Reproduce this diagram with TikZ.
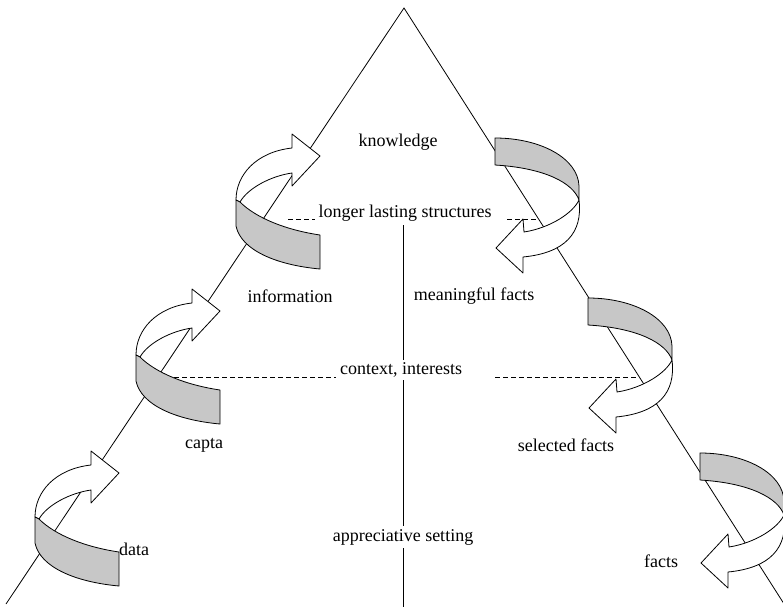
\documentclass[tikz,border=0pt]{standalone}
\usepackage{fontspec}
\setmainfont{Liberation Serif}
\begin{document}
\begin{tikzpicture}[x=1pt,y=-1pt,
  edge/.style={line width=0.8pt},
  guide/.style={line width=0.8pt, dash pattern=on 5pt off 3pt},
  ribbon/.style={draw, line width=0.8pt, fill=black!22, line join=round},
  shaft/.style={draw, line width=0.8pt, fill=white, line join=round},
  lbl/.style={font=\fontsize{18}{20}\selectfont, inner sep=1pt},
  cutlbl/.style={lbl, fill=white, inner sep=3pt},
  % curl rising to the upper right (left flank)
  curlup/.pic={
    \path[shaft] (0,0) .. controls (0,-25) and (20,-48) .. (56,-52)
      -- (56,-66) -- (84,-44) -- (56,-14) -- (56,-27)
      .. controls (35,-24) and (12,-12) .. (4,2) -- cycle;
    \path[ribbon] (0,0) -- (0,26) .. controls (5,50) and (40,65) .. (84,69)
      -- (84,35) .. controls (50,30) and (20,18) .. (4,2) -- cycle;
  },
  % curl falling to the lower left (right flank)
  curldown/.pic={
    \path[shaft] (84,62) .. controls (88,95) and (70,115) .. (28,119)
      -- (28,135) -- (1,110) -- (28,81) -- (29,94)
      .. controls (55,90) and (78,75) .. (84,62) -- cycle;
    \path[ribbon] (0,0) .. controls (45,0) and (83,20) .. (84,48) -- (84,62)
      .. controls (78,45) and (50,30) .. (0,27) -- cycle;
  },
]
\useasboundingbox (0,0) rectangle (783,607);

% triangle flanks and central axis
\coordinate (apex) at (404,8);
\coordinate (baseL) at (6,604);
\coordinate (baseR) at (786,607);
\draw[edge] (baseL) -- (apex) -- (baseR);
\coordinate (axisTop) at (403,225);
\coordinate (axisBot) at (403,607);
\draw[edge] (axisTop) -- (axisBot);

% dashed level lines
\coordinate (lsL1) at (288,219);
\coordinate (lsL2) at (315,219);
\coordinate (lsR1) at (507,219);
\coordinate (lsR2) at (538,219);
\draw[guide] (lsL1) -- (lsL2);
\draw[guide] (lsR1) -- (lsR2);
\coordinate (ciL1) at (158,377);
\coordinate (ciL2) at (336,377);
\coordinate (ciR1) at (495,377);
\coordinate (ciR2) at (639,377);
\draw[guide] (ciL1) -- (ciL2);
\draw[guide] (ciR1) -- (ciR2);

% curls on the left flank
\pic at (236,200) {curlup};
\pic at (136,355) {curlup};
\pic at (35,517) {curlup};
% curls on the right flank
\pic at (495,138) {curldown};
\pic at (588,298) {curldown};
\pic at (700,453) {curldown};

% labels
\node[lbl] (knowledge) at (398,142) {knowledge};
\node[lbl] (structures) at (405,213) {longer lasting structures};
\node[lbl] (information) at (290,296) {information};
\node[lbl] (meaningful) at (474,296) {meaningful facts};
\node[cutlbl] (context) at (401,370) {context, interests};
\node[lbl] (capta) at (204,445) {capta};
\node[lbl] (selected) at (566,445) {selected facts};
\node[cutlbl] (setting) at (403,537) {appreciative setting};
\node[lbl] (data) at (134,549) {data};
\node[lbl] (facts) at (661,561) {facts};
\end{tikzpicture}
\end{document}
